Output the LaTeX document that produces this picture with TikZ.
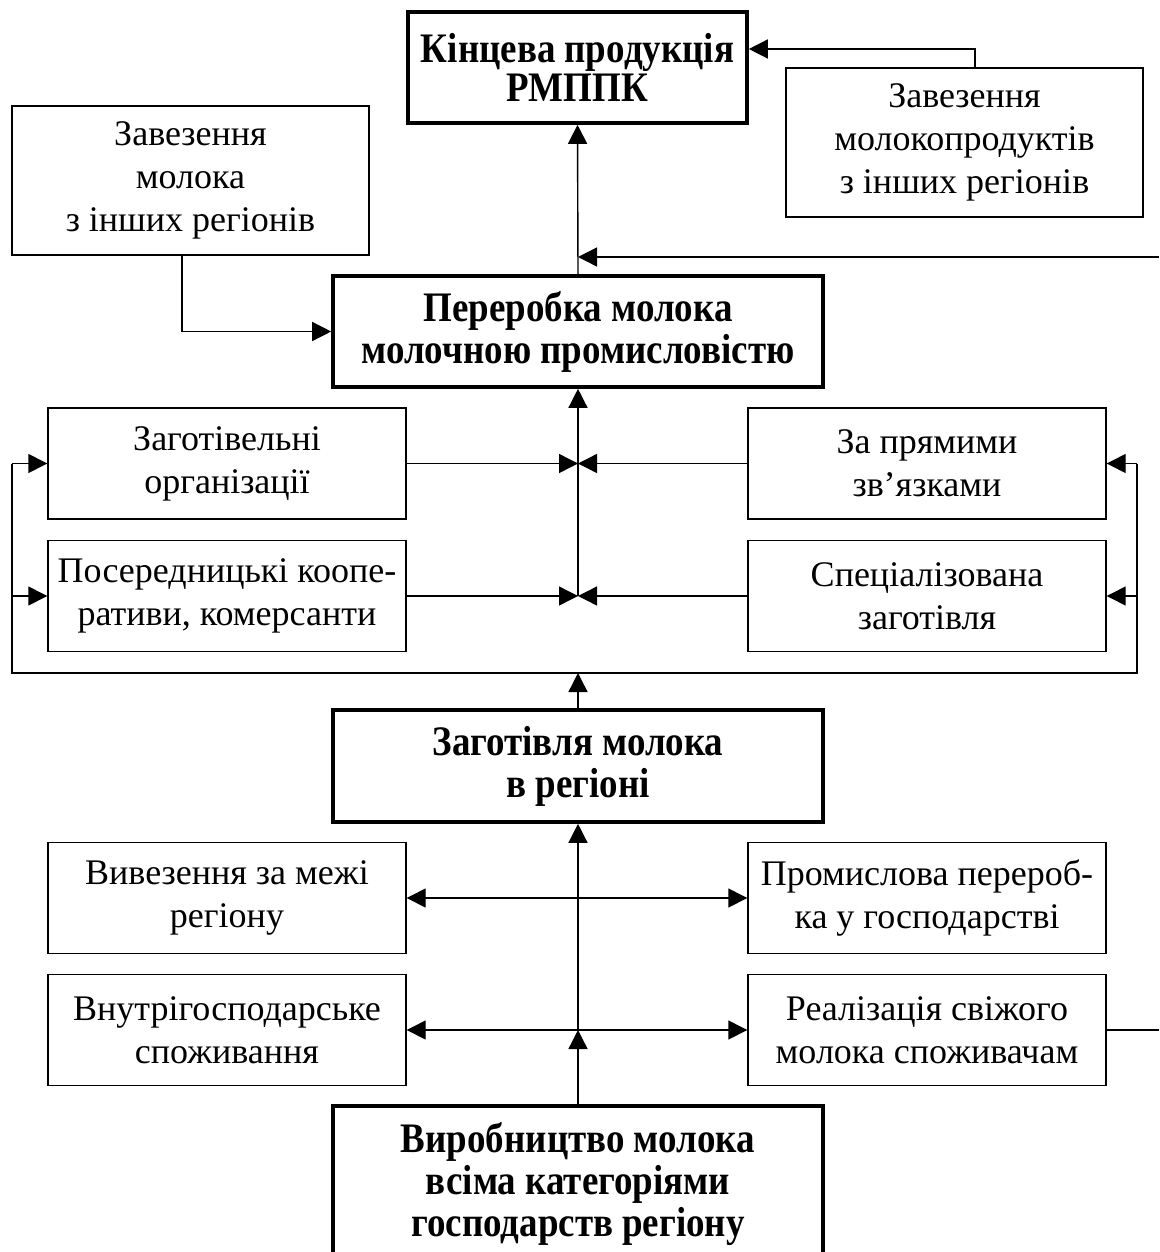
\documentclass[tikz,border=0pt]{standalone}
\usepackage{fontspec}
\setmainfont{Liberation Serif}
\newfontfamily\bcond{Liberation Serif}[FakeStretch=0.88]
\usetikzlibrary{arrows.meta}
\begin{document}
\begin{tikzpicture}[x=1pt,y=-1pt,
  box/.style={draw, line width=1.4pt, align=center, inner sep=0pt,
    font=\fontsize{36}{43}\selectfont},
  sbox/.style={box, minimum width=358pt, minimum height=111pt},
  mainbox/.style={box, line width=3.6pt, font=\bcond\bfseries\fontsize{42}{42}\selectfont},
  tip/.tip={Triangle[length=19pt,width=19pt]},
  arr/.style={-tip, line width=1.4pt},
  dbl/.style={tip-tip, line width=1.4pt},
  ln/.style={line width=1.4pt}]
\useasboundingbox (0,0) rectangle (1159,1252);
% nodes
\node[mainbox, minimum width=339pt, minimum height=111pt, font=\bcond\bfseries\fontsize{42}{39}\selectfont] (t) at (577.5,67.5) {Кінцева продукція\\РМППК};
\node[box, minimum width=357pt, minimum height=149pt] (zmp) at (964.5,142.5) {Завезення\\молокопродуктів\\з інших регіонів};
\node[box, minimum width=357pt, minimum height=149pt] (zm) at (190.5,180.5) {Завезення\\молока\\з інших регіонів};
\node[mainbox, minimum width=490pt, minimum height=111pt] (p) at (578,331.5) {Переробка молока\\молочною промисловістю};
\node[sbox] (zo) at (227,463.5) {Заготівельні\\організації};
\node[sbox] (pk) at (227,596) {Посередницькі коопе-\\ративи, комерсанти};
\node[sbox] (zpz) at (927,463.5) {За прямими\\зв’язками};
\node[sbox] (sz) at (927,596) {Спеціалізована\\заготівля};
\node[mainbox, minimum width=490pt, minimum height=112pt] (z) at (578,766) {Заготівля молока\\в регіоні};
\node[sbox] (vm) at (227,898) {Вивезення за межі\\регіону};
\node[sbox] (pp) at (927,898) {Промислова перероб-\\ка у господарстві};
\node[sbox] (vs) at (227,1030) {Внутрігосподарське\\споживання};
\node[sbox] (rs) at (927,1030) {Реалізація свіжого\\молока споживачам};
\node[mainbox, minimum width=490pt, minimum height=156pt] (b) at (578,1184) {Виробництво молока\\всіма категоріями\\господарств регіону};
% coordinates
\coordinate (jtop) at (578,257);
\coordinate (redge) at (1159,257);
\coordinate (zmpup) at (975,49);
\coordinate (zmdown) at (182,331.5);
\coordinate (jm1) at (578,463.5);
\coordinate (jm2) at (578,596);
\coordinate (fb) at (578,673);
\coordinate (fl) at (12,673);
\coordinate (fr) at (1137,673);
\coordinate (jl) at (578,1030);
\coordinate (redge2) at (1159,1030);
% connectors
\draw[arr] (p.north) -- (t.south);
\draw[arr] (zmp.north -| zmpup) -- (zmpup) -- (t.east |- zmpup);
\draw[arr] (redge) -- (jtop);
\draw[arr] (zm.south -| zmdown) -- (zmdown) -- (p.west);
\draw[arr] (zo.east) -- (jm1);
\draw[arr] (pk.east) -- (jm2);
\draw[arr] (zpz.west) -- (jm1);
\draw[arr] (sz.west) -- (jm2);
\draw[arr] (jm2) -- (p.south);
\draw[ln] (fl |- zo.west) -- (fl) -- (fr) -- (fr |- zpz.east);
\draw[arr] (fl |- zo.west) -- (zo.west);
\draw[arr] (fl |- pk.west) -- (pk.west);
\draw[arr] (fr |- zpz.east) -- (zpz.east);
\draw[arr] (fr |- sz.east) -- (sz.east);
\draw[arr] (z.north) -- (fb);
\draw[arr] (b.north) -- (jl);
\draw[arr] (jl) -- (z.south);
\draw[dbl] (vm.east) -- (pp.west);
\draw[dbl] (vs.east) -- (rs.west);
\draw[ln] (rs.east) -- (redge2);
\end{tikzpicture}
\end{document}
